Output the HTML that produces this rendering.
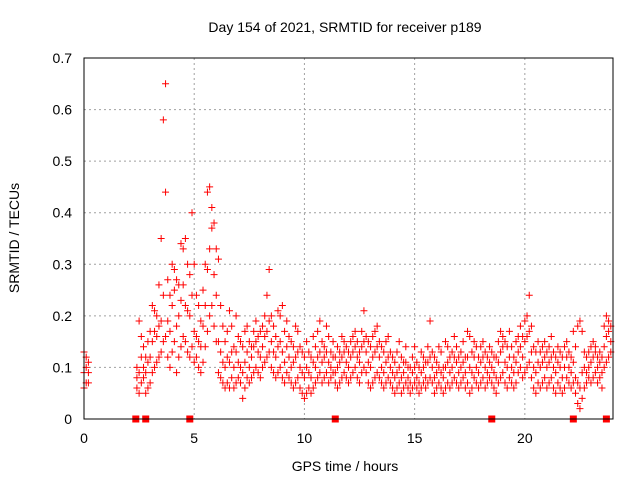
<!DOCTYPE html>
<html><head><meta charset="utf-8"><style>
body{margin:0;background:#fff}
svg{display:block;font-family:"Liberation Sans",sans-serif}
</style></head><body>
<svg id="chart" width="640" height="480">
<text x="345" y="32" font-size="14" text-anchor="middle">Day 154 of 2021, SRMTID for receiver p189</text>
<text x="345" y="471" font-size="14" text-anchor="middle">GPS time / hours</text>
<text transform="translate(19,238) rotate(-90)" font-size="14" text-anchor="middle">SRMTID / TECUs</text>
<g id="grid"></g>
<g id="ticks"></g>
<g id="pts" stroke="#f00" stroke-width="1"></g>
<rect x="84" y="58" width="529" height="361" fill="none" stroke="#000" stroke-width="1"/>
</svg>
<script>
const xTicks=[0,5,10,15,20];
const yTicks=[0,0.1,0.2,0.3,0.4,0.5,0.6,0.7];
const yTickLabels=["0","0.1","0.2","0.3","0.4","0.5","0.6","0.7"];
const hours=[0,0.1,0.2,2.4,2.5,2.6,2.7,2.8,2.9,3.0,3.1,3.2,3.3,3.4,3.5,3.6,3.7,3.8,3.9,4.0,4.1,4.2,4.3,4.4,4.5,4.6,4.7,4.8,4.9,5.0,5.1,5.2,5.3,5.4,5.5,5.6,5.7,5.8,5.9,6.0,6.1,6.2,6.3,6.4,6.5,6.6,6.7,6.8,6.9,7.0,7.1,7.2,7.3,7.4,7.5,7.6,7.7,7.8,7.9,8.0,8.1,8.2,8.3,8.4,8.5,8.6,8.7,8.8,8.9,9.0,9.1,9.2,9.3,9.4,9.5,9.6,9.7,9.8,9.9,10.0,10.1,10.2,10.3,10.4,10.5,10.6,10.7,10.8,10.9,11.0,11.1,11.2,11.3,11.4,11.5,11.6,11.7,11.8,11.9,12.0,12.1,12.2,12.3,12.4,12.5,12.6,12.7,12.8,12.9,13.0,13.1,13.2,13.3,13.4,13.5,13.6,13.7,13.8,13.9,14.0,14.1,14.2,14.3,14.4,14.5,14.6,14.7,14.8,14.9,15.0,15.1,15.2,15.3,15.4,15.5,15.6,15.7,15.8,15.9,16.0,16.1,16.2,16.3,16.4,16.5,16.6,16.7,16.8,16.9,17.0,17.1,17.2,17.3,17.4,17.5,17.6,17.7,17.8,17.9,18.0,18.1,18.2,18.3,18.4,18.5,18.6,18.7,18.8,18.9,19.0,19.1,19.2,19.3,19.4,19.5,19.6,19.7,19.8,19.9,20.0,20.1,20.2,20.3,20.4,20.5,20.6,20.7,20.8,20.9,21.0,21.1,21.2,21.3,21.4,21.5,21.6,21.7,21.8,21.9,22.0,22.1,22.2,22.3,22.4,22.5,22.6,22.7,22.8,22.9,23.0,23.1,23.2,23.3,23.4,23.5,23.6,23.7,23.8,23.9];
const lowVals=[.06,.07,.07,.06,.05,.07,.08,.05,.06,.07,.09,.10,.11,.12,.13,.15,.16,.12,.10,.13,.15,.09,.12,.14,.16,.15,.13,.12,.14,.11,.12,.10,.09,.11,.14,.17,.20,.22,.18,.15,.09,.08,.07,.06,.07,.06,.08,.06,.07,.08,.07,.04,.06,.08,.07,.08,.09,.10,.09,.08,.10,.11,.12,.13,.10,.09,.08,.09,.10,.08,.07,.09,.08,.07,.06,.07,.08,.06,.05,.04,.05,.06,.05,.06,.07,.08,.09,.07,.08,.09,.07,.08,.09,.07,.06,.07,.08,.09,.08,.07,.08,.09,.10,.08,.07,.09,.10,.09,.07,.06,.07,.08,.09,.08,.07,.06,.07,.08,.07,.06,.05,.06,.07,.05,.06,.07,.06,.05,.06,.07,.06,.05,.06,.07,.06,.07,.08,.07,.05,.06,.07,.06,.05,.06,.07,.06,.07,.08,.07,.06,.07,.08,.06,.07,.05,.06,.08,.07,.06,.07,.08,.06,.07,.08,.07,.06,.05,.07,.08,.09,.07,.06,.08,.07,.06,.07,.09,.10,.08,.09,.10,.11,.08,.06,.05,.07,.06,.07,.08,.06,.07,.08,.06,.05,.07,.06,.05,.06,.08,.07,.06,.07,.05,.03,.02,.04,.06,.07,.08,.07,.08,.09,.07,.08,.06,.10,.11,.12,.13];
const midVals=[.09,.10,.09,.08,.09,.12,.10,.09,.11,.12,.15,.17,.16,.18,.19,.24,.44,.19,.17,.22,.25,.18,.20,.23,.26,.22,.21,.20,.24,.17,.16,.15,.14,.18,.22,.29,.33,.37,.28,.24,.15,.13,.11,.10,.12,.11,.13,.10,.13,.11,.10,.09,.11,.13,.10,.12,.14,.15,.13,.12,.14,.16,.17,.19,.15,.13,.12,.14,.15,.13,.11,.14,.12,.10,.11,.12,.13,.10,.09,.08,.10,.09,.08,.11,.10,.12,.13,.11,.12,.13,.11,.10,.12,.09,.10,.11,.12,.13,.11,.10,.12,.13,.14,.12,.11,.14,.15,.13,.11,.10,.12,.13,.14,.12,.10,.09,.11,.12,.10,.09,.08,.09,.10,.08,.09,.11,.08,.07,.09,.10,.08,.07,.09,.10,.08,.11,.12,.10,.08,.09,.10,.09,.08,.10,.11,.09,.10,.12,.11,.09,.10,.11,.09,.12,.10,.09,.12,.10,.09,.11,.12,.10,.09,.11,.10,.09,.08,.11,.13,.14,.11,.10,.12,.10,.09,.11,.13,.14,.12,.15,.16,.17,.13,.10,.09,.11,.10,.11,.12,.10,.11,.12,.10,.09,.11,.10,.08,.10,.12,.10,.09,.11,.08,.07,.06,.09,.10,.09,.10,.11,.12,.13,.10,.11,.09,.14,.16,.17,.15];
const highVals=[.13,.12,.11,.10,.19,.16,.14,.12,.15,.17,.22,.21,.20,.26,.35,.58,.65,.27,.24,.30,.29,.27,.26,.34,.33,.35,.30,.28,.40,.30,.24,.22,.19,.25,.30,.44,.45,.41,.38,.33,.31,.22,.18,.15,.17,.21,.18,.14,.20,.16,.15,.14,.17,.18,.15,.14,.17,.19,.16,.17,.18,.20,.24,.29,.20,.18,.16,.21,.20,.22,.17,.19,.16,.15,.14,.18,.17,.14,.13,.12,.15,.13,.12,.16,.14,.17,.19,.15,.14,.18,.16,.13,.15,.12,.14,.13,.16,.15,.14,.13,.15,.16,.17,.15,.13,.17,.21,.16,.15,.14,.16,.17,.18,.15,.14,.13,.15,.16,.13,.12,.11,.13,.15,.12,.11,.14,.10,.10,.12,.14,.11,.10,.13,.12,.11,.14,.19,.13,.12,.11,.14,.13,.10,.15,.14,.12,.13,.16,.14,.12,.13,.15,.12,.17,.16,.13,.15,.14,.12,.14,.15,.13,.12,.14,.13,.12,.12,.15,.17,.16,.15,.14,.17,.14,.12,.15,.16,.18,.16,.19,.20,.24,.18,.14,.13,.15,.13,.14,.15,.13,.14,.16,.13,.12,.14,.13,.12,.14,.15,.13,.12,.17,.14,.18,.19,.17,.13,.12,.13,.14,.15,.14,.12,.13,.12,.18,.20,.19,.18];
const zeroHours=[2.35,2.8,4.8,11.4,18.5,22.2,23.7];

const NS="http://www.w3.org/2000/svg";
const X0=84,X1=613,Y0=419,Y1=58,XMAX=24,YMAX=0.7;
const xs=h=>X0+(X1-X0)*h/XMAX;
const ys=v=>Y0-(Y0-Y1)*v/YMAX;
function mk(tag,attrs,parent){const e=document.createElementNS(NS,tag);for(const k in attrs)e.setAttribute(k,attrs[k]);parent.appendChild(e);return e;}
const grid=document.getElementById('grid'),ticks=document.getElementById('ticks'),pts=document.getElementById('pts');
xTicks.forEach(t=>{
  const x=xs(t);
  if(t>0){const g=mk('line',{x1:x,x2:x,y1:Y1,y2:Y0,stroke:'#a0a0a0','stroke-dasharray':'2,3'},grid);
  
  }
  const tl=mk('text',{x:x,y:443,'font-size':14,'text-anchor':'middle'},ticks);tl.textContent=t;
  
  
});
yTicks.forEach((t,i)=>{
  const y=ys(t);
  if(t>0&&t<0.7){const g=mk('line',{x1:X0,x2:X1,y1:y,y2:y,stroke:'#a0a0a0','stroke-dasharray':'2,3'},grid);
  
  }
  const tl=mk('text',{x:72,y:y+5,'font-size':14,'text-anchor':'end'},ticks);tl.textContent=yTickLabels[i];
  
  
});
let d='';
[lowVals,midVals,highVals].forEach(arr=>{
  hours.forEach((h,i)=>{const x=xs(h),y=ys(arr[i]);d+=`M${x-3.5},${y}h7M${x},${y-3.5}v7`;});
});
const p=mk('path',{d:d,fill:'none'},pts);


zeroHours.forEach(h=>{
  const r=mk('rect',{x:xs(h)-3,y:Y0-3,width:6,height:6,fill:'#f00'},pts);
  
  
});
</script>
</body></html>
